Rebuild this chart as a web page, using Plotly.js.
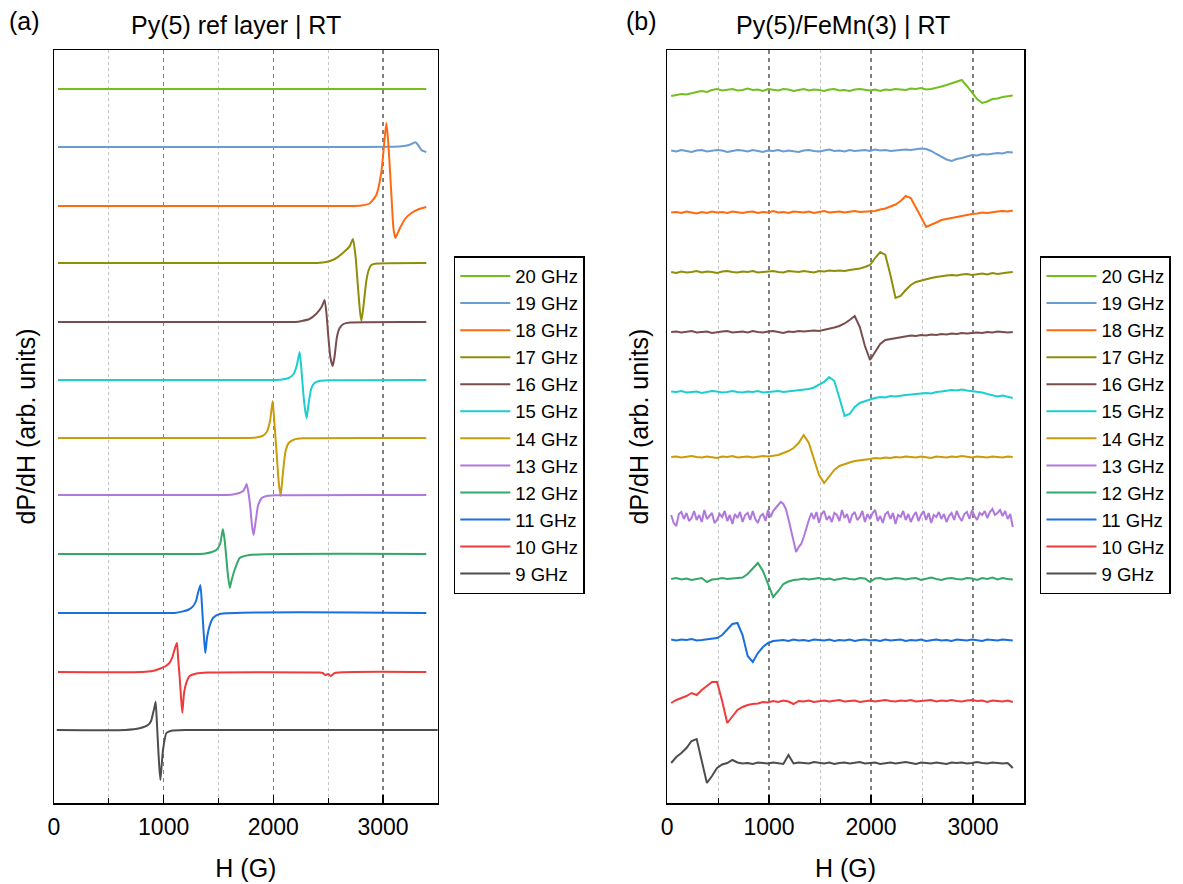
<!DOCTYPE html>
<html><head><meta charset="utf-8">
<script src="https://cdn.plot.ly/plotly-3.0.1.min.js"></script>
<style>html,body{margin:0;padding:0;background:#fff}#chart{width:1183px;height:884px}</style>
</head><body><div id="chart"></div>
<script>
// ---------- shared data ----------
const freqLabels = ['20 GHz','19 GHz','18 GHz','17 GHz','16 GHz','15 GHz','14 GHz','13 GHz','12 GHz','11 GHz','10 GHz','9 GHz'];
const colors = ['#73BF1F','#6A9BD1','#FF6A10','#8E8E0A','#7A4D4D','#1BCFCF','#CC9B0A','#B077DD','#33A867','#1A6FE0','#EE3B3B','#4D4D4D'];
const hTicks = [0, 1000, 2000, 3000];
const hMinorTicks = [500, 1500, 2500];

// ---------- panel (a): Py(5) ref layer | RT ----------
// vertical stacking offsets (arb. units) for 20 ... 9 GHz
const offsetsA = [714, 656, 597, 540, 481, 423, 365, 308, 249, 190, 131, 73];
const hA20 = [36, 800, 1600, 2400, 3395];
const vA20 = [0, 0, 0, 0, 0];
const hA19 = [36, 1000, 2000, 3150, 3220, 3260, 3295, 3320, 3350, 3395];
const vA19 = [0, 0, 0, 0.5, 1.5, 3, 4.7, 2, -3, -5];
const hA18 = [36, 1000, 2000, 2700, 2800, 2878, 2939, 2984, 3008, 3030, 3045, 3062, 3080, 3095, 3112, 3130, 3160, 3200, 3260, 3330, 3395];
const vA18 = [0, 0, 0, 0, 0.5, 2.5, 11, 33, 59, 83, 68, 39, 5, -22, -32, -28, -21, -13, -7, -3, -1];
const hA17 = [36, 1000, 2000, 2400, 2483, 2560, 2634, 2696, 2726, 2750, 2771, 2790, 2803, 2820, 2848, 2870, 2893, 2950, 3395];
const vA17 = [0, 0, 0, 0, 1, 4, 10, 16.6, 24, 6.6, -23, -48, -58, -45, -18, -7, -2, -0.5, 0];
const hA16 = [36, 1000, 2000, 2200, 2260, 2330, 2390, 2440, 2468, 2485, 2502, 2520, 2541, 2558, 2580, 2605, 2640, 2700, 3395];
const vA16 = [0, 0, 0, 0, 1, 3, 8, 15, 22, 8, -15, -35, -44, -35, -15, -6, -2, -0.5, 0];
const hA15 = [36, 1000, 2000, 2080, 2140, 2185, 2215, 2240, 2258, 2275, 2290, 2304, 2320, 2345, 2375, 2420, 2500, 3395];
const vA15 = [0, 0, 0, 0.5, 2, 6, 15, 28, 8, -15, -30, -38, -25, -9, -3, -1, -0.3, 0];
const hA14 = [36, 1000, 1750, 1840, 1900, 1940, 1970, 1994, 2010, 2030, 2050, 2067, 2085, 2110, 2140, 2190, 2270, 3395];
const vA14 = [0, 0, 0, 0.5, 2, 6, 17, 37, 15, -15, -45, -58, -38, -14, -5, -1.5, -0.3, 0];
const hA13 = [36, 1000, 1550, 1630, 1690, 1725, 1745, 1757, 1772, 1790, 1805, 1820, 1838, 1862, 1895, 1940, 2020, 3395];
const vA13 = [0, 0, 0, 0.5, 2, 4, 8, 11, 3, -12, -30, -40, -27, -10, -3, -1, -0.3, 0];
const hA12 = [36, 1000, 1300, 1380, 1440, 1480, 1515, 1540, 1556, 1570, 1585, 1603, 1620, 1647, 1693, 1784, 3395];
const vA12 = [0, 0, 0, 0.5, 2, 4, 10, 25, 14, -2, -20, -34, -26, -16, -4, -1, 0];
const hA11 = [36, 1000, 1100, 1176, 1230, 1267, 1295, 1313, 1335, 1348, 1359, 1370, 1380, 1395, 1419, 1450, 1510, 3395];
const vA11 = [0, 0, 0, 1.6, 3.5, 6.6, 12, 20, 28, 10, -10, -28, -40, -25, -13, -5, -1, 0];
const hA10 = [36, 800, 900, 964, 1020, 1055, 1080, 1100, 1121, 1133, 1146, 1158, 1170, 1185, 1207, 1237, 1298, 1400, 2420, 2450, 2475, 2500, 2525, 2560, 3395];
const vA10 = [0, 0, 1, 3.3, 6, 9.3, 15, 22.7, 29.3, 12, -5.3, -25, -40.7, -22, -10.7, -4, -1.5, -0.5, -0.5, -1, -3, -2, -4, -1, 0];
const hA9 = [25, 650, 781, 857, 885, 903, 915, 927, 938, 948, 959, 970, 982, 994, 1025, 1070, 1200, 3500];
const vA9 = [0, 0, 1.7, 5, 9, 16.7, 22, 28.3, 8, -13.3, -35, -50, -35, -20, -3, -0.7, 0, 0];
const hA = [hA20, hA19, hA18, hA17, hA16, hA15, hA14, hA13, hA12, hA11, hA10, hA9];
const vA = [vA20, vA19, vA18, vA17, vA16, vA15, vA14, vA13, vA12, vA11, vA10, vA9];

// ---------- panel (b): Py(5)/FeMn(3) | RT ----------
const offsetsB = [713, 652, 591, 531, 471, 411, 346, 286, 224, 163, 102, 40];
const hB = [40,90,140,190,240,290,340,390,440,490,540,590,640,690,740,790,840,890,940,990,
  1040,1090,1140,1190,1240,1290,1340,1390,1440,1490,1540,1590,1640,1690,1740,1790,1840,1890,1940,1990,
  2040,2090,2140,2190,2240,2290,2340,2390,2440,2490,2540,2590,2640,2690,2740,2790,2840,2890,2940,2990,
  3040,3090,3140,3190,3240,3290,3340,3390];
const hB13 = [40,65,90,115,140,165,190,215,240,265,290,315,340,365,390,415,440,465,490,515,
  540,565,590,615,640,665,690,715,740,765,790,815,840,865,890,915,940,965,990,1015,
  1040,1065,1090,1115,1140,1165,1190,1215,1240,1265,1290,1315,1340,1365,1390,1415,1440,1465,1490,1515,
  1540,1565,1590,1615,1640,1665,1690,1715,1740,1765,1790,1815,1840,1865,1890,1915,1940,1965,1990,2015,
  2040,2065,2090,2115,2140,2165,2190,2215,2240,2265,2290,2315,2340,2365,2390,2415,2440,2465,2490,2515,
  2540,2565,2590,2615,2640,2665,2690,2715,2740,2765,2790,2815,2840,2865,2890,2915,2940,2965,2990,3015,
  3040,3065,3090,3115,3140,3165,3190,3215,3240,3265,3290,3315,3340,3365,3390];
const vB20 = [-6,-5,-4,-4.5,-3,-2,-1,-2,0,1, -0.5,0.5,1,-0.5,0,1.5,0,0.5,-1,1, 0,-0.5,1,0.5,-1,0,1,-0.5,0.5,0,
  -1,0.5,1,-0.5,0,-1,0.5,1,0,-0.5, 0.5,-1,0.5,0,1,0.5,0,1.5,1,2, 0.5,1,2,3.5,5,6.5,8,10,4,-3, -9,-13,-11.5,-9,-8.5,-7,-6.5,-5.5];
const vB19 = [0.5,-0.5,1,0,-1,0.5,1,-0.5,0,1, 0.5,-1,0,1,0.5,-0.5,1,0,-1,0.5, 0,1,-0.5,0.5,0,-1,0.5,1,0,-0.5,
  0.5,1.5,0,0.5,-0.5,1,0,0.5,1,0, 1.5,0.5,1,0,0.5,1,1.5,1,2,2.5, 2,0,-3,-6,-8.5,-10,-8,-7,-5.5,-4, -4.5,-3,-3.5,-2.5,-2,-2.5,-1,-1.5];
const vB18 = [-0.5,0,-1,0.5,-0.5,-1.5,0,-1,0.5,-0.5, 0,-1,0.5,-0.5,-1,0,0.5,-1,0,-0.5, 1,-0.5,0,-1,0.5,0,-0.5,0.5,-1,0,
  1,-0.5,0,0.5,-0.5,0,1,0,0.5,0.5, 1,2.5,3.5,5.5,7.5,11,16,14,5,-5, -15,-13,-10.5,-8,-7,-5.5,-5,-3.5,-3,-2, -1.5,-0.5,-1,0,0.5,1,0.5,1.5];
const vB17 = [0,-1,0.5,-0.5,0,1,-0.5,0.5,0,-1, 0.5,1,0,-0.5,0.5,0,1,-0.5,0,0.5, 1,0,-0.5,1,0.5,0,1,0.5,-0.5,1,
  0.5,1.5,1,1.5,1,2,2.5,3.5,5,7, 14,20,17,-3,-26,-24,-18,-13,-10,-8.5, -7,-6,-5,-4,-3.5,-3,-3.5,-2.5,-2,-3, -2,-1.5,-2.5,-1,-2,-1,-0.5,0];
const vB16 = [0,0.5,-0.5,0,1,-0.5,0,0.5,-1,0, 0.5,1,-0.5,0,0.5,-0.5,1,0,-0.5,0.5, 1,0,-1,0.5,0,1,0.5,1,1.5,1,
  2,3,4.5,6,8.5,12,16,5,-14,-28, -20,-12,-8,-7,-6,-5,-4.5,-3.5,-4,-3, -3.5,-2.5,-3,-2,-2.5,-1.5,-2,-1,-1.5,-1, -0.5,-1,0,-0.5,0.5,0,-0.5,0];
const vB15 = [0.5,0,1,-0.5,0,0.5,-1,0,1,0.5, -0.5,0,1,0,-0.5,0.5,0,1,-0.5,0, 0.5,1,0,0.5,1,1.5,2,3,4.5,7,
  10,15,11,-6,-24,-22,-15,-11,-9,-7.5, -6,-5,-5.5,-4,-4.5,-3.5,-3,-2.5,-2,-1.5, -1,-1.5,0,0.5,1,2,1.5,2.5,1.5,1, 0,-0.5,-2,-3,-4.5,-3.5,-5,-6];
const vB14 = [0,0.5,-0.5,0,1,0,-0.5,0.5,0,-1, 0.5,0,1,-0.5,0,0.5,-0.5,0,1,0.5, 1,2,4,6,9,14,22,14,-2,-18,
  -26,-19,-13,-9,-7,-5.5,-4,-3.5,-2.5,-2, -1,-1.5,-0.5,-1,0,-0.5,0.5,0,-0.5,0.5, 0,-1,0.5,0,-0.5,0.5,0,1,0,-0.5, 0.5,0,-0.5,0.5,0,-0.5,0.5,0];
// 13 GHz is the noisiest trace, read on a finer field step (hB13)
const vB13 = [2,-6,-9,3,5,-2,4,-4,-1,6, -3,2,-5,7,-2,1,4,-6,-3,3, 0,6,-4,2,-7,3,-1,5,-5,2,
  4,-3,6,-2,-6,1,3,-4,7,0, 6,9,12,15,13,8,-2,-12,-25,-35, -30,-27,-20,-11,-3,4,-2,5,-6,3,
  6,-3,1,-5,4,2,-4,7,-1,3, -6,2,5,-3,0,6,-5,3,-2,4, 7,-4,1,-6,3,5,-2,4,-7,2,
  0,6,-3,3,-5,1,5,-4,2,6, -3,4,-6,2,0,5,-2,3,-5,1, 4,-3,6,0,-4,3,5,-2,7,1,
  -3,4,2,6,-1,5,8,2,4,7, 1,6,-2,3,-10];
const vB12 = [0,1,-0.5,0.5,-1,0,1,-3,-0.5,0, 1,0,0.5,1,1.5,5,10,16,8,-5, -18,-12,-5,-2.5,-1,-0.5,0.5,-0.5,0,1,
  -0.5,0.5,-1,0,1,0,-0.5,1,0.5,-3, 0.5,1,-0.5,0,1,0.5,-0.5,0.5,1,-1, 0,1.5,0,-1,0.5,1,0,-0.5,1,0.5, -1,1,0,1.5,-0.5,1,0,-0.5];
const vB11 = [0.5,-0.5,0.5,0,1,-0.5,0,0.5,1,2, 5,10,16,17,5,-16,-22,-13,-7,-3, -1,-0.5,0,-1,0.5,-0.5,0,-1,0.5,0,
  -0.5,0.5,-1,0,-0.5,0.5,-1,0,0.5,-0.5, 0,-1,0.5,-0.5,0,0.5,-1,0,-0.5,0.5, -1,0,0.5,-0.5,0,-1,0.5,0,-0.5,0.5, 0,-1,0.5,0,-0.5,0.5,0,-0.5];
const vB10 = [-2,1,3,5,8,6,11,15,19,19, 0,-22,-16,-9,-6,-4,-3,-2.5,-1,-1.5, 0,-1,0.5,-0.5,-3,0,-0.5,0.5,-1,0,
  0.5,-0.5,0,1,-0.5,0,0.5,-1,0,0.5, -0.5,0,1,0,-0.5,0.5,0,1,-0.5,0, 0.5,1,-0.5,0.5,0,1,0,-0.5,0.5,1, 0,0.5,-1,0.5,0,-0.5,0.5,-1];
const vB9 = [0,6,10,15,22,24,2,-20,-13,-5, -1.5,0,3,0.5,-0.5,0,-1,0.5,0,-0.5, 0.5,0,-1,8,-0.5,0.5,0,-0.5,1,0,
  -0.5,0.5,-1,0,0.5,-0.5,0,1,-0.5,0, 0.5,-1,0,0.5,-0.5,0,1,0,-1,0.5, 0,-0.5,0.5,0,-1,0.5,0,0.5,-0.5,0, 1,0,-0.5,0.5,0,-0.5,0,-5];
const hBs = [hB, hB, hB, hB, hB, hB, hB, hB13, hB, hB, hB, hB];
const vB = [vB20, vB19, vB18, vB17, vB16, vB15, vB14, vB13, vB12, vB11, vB10, vB9];

// ---------- geometry / styling ----------
const FONT = 'Liberation Sans, Arial, Helvetica, sans-serif';
const W = 1183, H = 884;
const M = {l: 54, r: 156, t: 50, b: 81};
const PW = W - M.l - M.r, PH = H - M.t - M.b;
const fx = p => (p - M.l) / PW;
const fy = p => (H - M.b - p) / PH;

const traces = [];
freqLabels.forEach((name, i) => {
  traces.push({
    type: 'scatter', mode: 'lines', name: name,
    x: hA[i], y: vA[i].map(v => v + offsetsA[i]),
    line: {color: colors[i], width: 2, shape: 'spline', smoothing: 0.5},
    xaxis: 'x', yaxis: 'y', legend: 'legend', legendgroup: 'a' + i
  });
});
freqLabels.forEach((name, i) => {
  traces.push({
    type: 'scatter', mode: 'lines', name: name,
    x: hBs[i], y: vB[i].map(v => v + offsetsB[i]),
    line: {color: colors[i], width: 2},
    xaxis: 'x2', yaxis: 'y2', legend: 'legend2', legendgroup: 'b' + i
  });
});

const xCommon = {
  range: [0, 3500], tickmode: 'array', tickvals: hTicks, ticktext: hTicks.map(String),
  ticks: 'inside', ticklen: 8, tickwidth: 1.5, tickcolor: '#000',
  ticklabelstandoff: 3,
  tickfont: {family: FONT, size: 23, color: '#000'},
  showline: true, linecolor: '#000', linewidth: 1.5, mirror: true,
  showgrid: true, gridcolor: '#7f7f7f', gridwidth: 1.5, griddash: '4px,4px',
  zeroline: false,
  minor: {tickmode: 'array', tickvals: hMinorTicks, ticks: 'inside', ticklen: 5, tickwidth: 1, tickcolor: '#000',
          showgrid: true, gridcolor: '#c4c4c4', gridwidth: 1, griddash: 'dot'},
  title: {text: 'H (G)', font: {family: FONT, size: 25, color: '#000'}, standoff: 20},
  fixedrange: true
};
const yCommon = {
  range: [0, 753], showticklabels: false, ticks: '', showgrid: false, zeroline: false,
  showline: true, linecolor: '#000', linewidth: 1.5, mirror: true,
  title: {text: 'dP/dH (arb. units)', font: {family: FONT, size: 25, color: '#000'}, standoff: 10},
  fixedrange: true
};
const legCommon = {
  xanchor: 'left', yanchor: 'top', bgcolor: '#fff', bordercolor: '#000', borderwidth: 1.5,
  font: {family: FONT, size: 18.5, color: '#000'}, tracegroupgap: 0, itemwidth: 50
};

const layout = {
  width: W, height: H, margin: M, paper_bgcolor: '#fff', plot_bgcolor: '#fff',
  font: {family: FONT, color: '#000'}, showlegend: true,
  xaxis: Object.assign({}, xCommon, {domain: [0, fx(439)], anchor: 'y'}),
  yaxis: Object.assign({}, yCommon, {domain: [0, 1], anchor: 'x'}),
  xaxis2: Object.assign({}, xCommon, {domain: [fx(669), 1], anchor: 'y2'}),
  yaxis2: Object.assign({}, yCommon, {domain: [0, 1], anchor: 'x2'}),
  legend: Object.assign({}, legCommon, {x: fx(455), y: fy(256)}),
  legend2: Object.assign({}, legCommon, {x: fx(1043), y: fy(256)}),
  annotations: [
    {text: '(a)', x: fx(7), y: fy(21), xref: 'paper', yref: 'paper', xanchor: 'left', yanchor: 'middle', showarrow: false, font: {family: FONT, size: 25, color: '#000'}},
    {text: 'Py(5) ref layer | RT', x: fx(237), y: fy(25), xref: 'paper', yref: 'paper', xanchor: 'center', yanchor: 'middle', showarrow: false, font: {family: FONT, size: 25, color: '#000'}},
    {text: '(b)', x: fx(626), y: fy(21), xref: 'paper', yref: 'paper', xanchor: 'left', yanchor: 'middle', showarrow: false, font: {family: FONT, size: 25, color: '#000'}},
    {text: 'Py(5)/FeMn(3) | RT', x: fx(845), y: fy(25), xref: 'paper', yref: 'paper', xanchor: 'center', yanchor: 'middle', showarrow: false, font: {family: FONT, size: 25, color: '#000'}}
  ]
};

Plotly.newPlot('chart', traces, layout, {staticPlot: true, displayModeBar: false});
</script>
</body></html>
